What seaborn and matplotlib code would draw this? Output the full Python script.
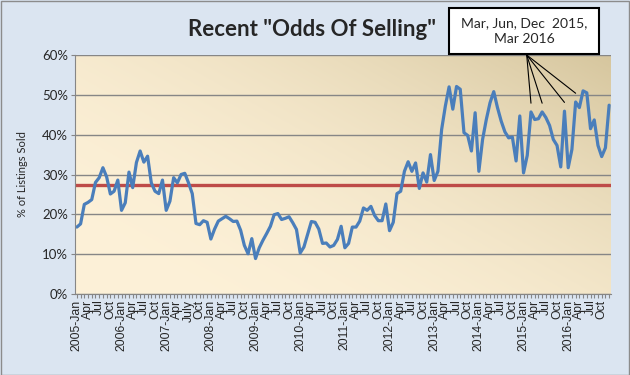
import matplotlib.pyplot as plt
import matplotlib.patches as mpatches
import seaborn as sns
import pandas as pd
import numpy as np

years = list(range(2005, 2017))
month_names = ["Jan", "Feb", "Mar", "Apr", "May", "Jun",
               "Jul", "Aug", "Sep", "Oct", "Nov", "Dec"]

# % of listings sold, monthly 2005-Jan .. 2016-Dec
odds = [
    16.8, 17.6, 22.5, 23.0, 23.7, 28.0, 29.2, 31.7, 29.4, 25.1, 25.8, 28.6,   # 2005
    21.0, 22.9, 30.6, 26.7, 33.0, 35.9, 33.1, 34.6, 27.9, 25.8, 25.2, 28.6,   # 2006
    21.0, 23.3, 29.2, 27.9, 30.0, 30.3, 27.9, 25.2, 17.7, 17.4, 18.4, 18.0,   # 2007
    13.8, 16.3, 18.3, 18.9, 19.5, 18.9, 18.2, 18.3, 16.0, 12.2, 10.1, 13.9,   # 2008
    8.9, 11.6, 13.5, 15.2, 17.0, 19.9, 20.2, 18.7, 19.0, 19.4, 17.9, 16.2,    # 2009
    10.3, 11.8, 15.0, 18.2, 18.0, 16.3, 12.7, 12.8, 11.8, 12.2, 13.7, 17.0,   # 2010
    11.6, 12.7, 16.8, 16.8, 18.3, 21.6, 21.0, 22.0, 19.7, 18.4, 18.4, 22.6,   # 2011
    15.9, 18.0, 25.2, 25.8, 30.8, 33.2, 30.8, 32.9, 26.5, 30.4, 28.1, 35.0,   # 2012
    28.5, 30.8, 41.3, 47.2, 52.0, 46.4, 52.1, 51.4, 40.5, 39.8, 35.9, 45.5,   # 2013
    30.8, 38.8, 43.8, 48.0, 50.8, 46.8, 43.4, 40.7, 39.2, 39.4, 33.4, 44.7,   # 2014
    30.4, 34.8, 45.7, 43.8, 44.0, 45.7, 44.3, 42.3, 38.8, 37.3, 31.9, 45.9,   # 2015
    31.7, 36.3, 48.2, 46.8, 51.0, 50.5, 41.5, 43.7, 37.3, 34.5, 36.7, 47.4,   # 2016
]
average = 27.3

quarter_names = ["Jan", "Apr", "Jul", "Oct"]
callout_months = ["2015-Mar", "2015-Jun", "2015-Dec", "2016-Mar"]
callout_text = "Mar, Jun, Dec  2015,\nMar 2016"

months = [f"{y}-{m}" for y in years for m in month_names]
df = pd.DataFrame({"month": months, "odds": odds})
df["pos"] = np.arange(len(df))

tick_pos = [i for i, m in enumerate(months) if m.split("-")[1] in quarter_names]
tick_labels = []
for i in tick_pos:
    y, m = months[i].split("-")
    if m == "Jan":
        tick_labels.append(months[i])
    elif months[i] == "2007-Jul":
        tick_labels.append("July")
    else:
        tick_labels.append(m)

sns.set_style("white")
plt.rcParams["font.family"] = ["Lato", "DejaVu Sans"]

W, H = 630, 375
fig = plt.figure(figsize=(W / 100, H / 100), dpi=100)
fig.patch.set_facecolor("#dbe5f1")
fig.patches.append(mpatches.Rectangle((0.5 / W, 0.5 / H), 1 - 1.5 / W, 1 - 1.5 / H,
                                      transform=fig.transFigure, fill=False,
                                      edgecolor="#8c8c8c", lw=1))

L, R, T, B = 75, 611, 55, 294
ax = fig.add_axes([L / W, 1 - B / H, (R - L) / W, (B - T) / H])

# diagonal cream -> tan gradient, darkest in the upper right
gx, gy = np.meshgrid(np.linspace(0, 1, 200), np.linspace(0, 1, 200))
t = np.clip((gx + 0.8 * gy) / 1.8, 0, 1) ** 2.2
c0 = np.array([253, 241, 216]) / 255
c1 = np.array([214, 198, 158]) / 255
img = c0[None, None, :] * (1 - t[..., None]) + c1[None, None, :] * t[..., None]
ax.imshow(img, extent=[0, 1, 0, 1], origin="lower", transform=ax.transAxes,
          aspect="auto", zorder=0)

sns.lineplot(data=df, x="pos", y="odds", ax=ax, color="#4a7ebb", lw=2.3,
             zorder=3)
ax.axhline(average, color="#be4b48", lw=2.4, zorder=2)

ax.set_xlim(-0.5, len(df) - 0.5)
ax.set_ylim(0, 60)
ax.set_yticks(range(0, 61, 10))
ax.set_yticklabels([f"{v}%" for v in range(0, 61, 10)], fontsize=9.5)
ax.set_xticks(tick_pos)
ax.set_xticklabels(tick_labels, rotation=90, fontsize=8.8,
                   family=["Liberation Sans", "DejaVu Sans"])
ax.set_xticks(df["pos"], minor=True)
ax.tick_params(axis="x", which="both", direction="out", length=3,
               color="#868686", width=0.8, bottom=True, pad=1)
ax.tick_params(axis="y", direction="out", length=3, color="#868686",
               width=0.8, left=True, pad=2)
ax.grid(axis="y", color="#868686", lw=1, zorder=1)
ax.set_axisbelow(False)
for g in ax.get_ygridlines():
    g.set_zorder(1)
for s in ["top", "right"]:
    ax.spines[s].set_visible(False)
for s in ["left", "bottom"]:
    ax.spines[s].set_color("#868686")
    ax.spines[s].set_zorder(4)
ax.set_xlabel("")
ax.set_ylabel("% of Listings Sold", fontsize=8, labelpad=10)

fig.text(312 / W, 1 - 30 / H, 'Recent "Odds Of Selling"', ha="center",
         va="center", fontsize=16, fontweight="bold")

# callout box with leader lines
bx0, by0, bx1, by1 = 449, 8, 599, 54
fig.patches.append(mpatches.Rectangle((bx0 / W, 1 - by1 / H), (bx1 - bx0) / W,
                                      (by1 - by0) / H, transform=fig.transFigure,
                                      facecolor="white", edgecolor="black",
                                      lw=1.5, zorder=5))
fig.text((bx0 + bx1) / 2 / W, 1 - (by0 + by1) / 2 / H, callout_text,
         ha="center", va="center", fontsize=10, linespacing=1.45, zorder=6)
origin = (526.7, H - 55)
for m in callout_months:
    i = months.index(m)
    ax.annotate("", xy=(i, odds[i] + 2.2), xycoords="data",
                xytext=origin, textcoords="figure pixels",
                arrowprops=dict(arrowstyle="-", color="black", lw=0.8,
                                shrinkA=0, shrinkB=0))

fig.savefig("out.png", dpi=100, facecolor=fig.get_facecolor())
